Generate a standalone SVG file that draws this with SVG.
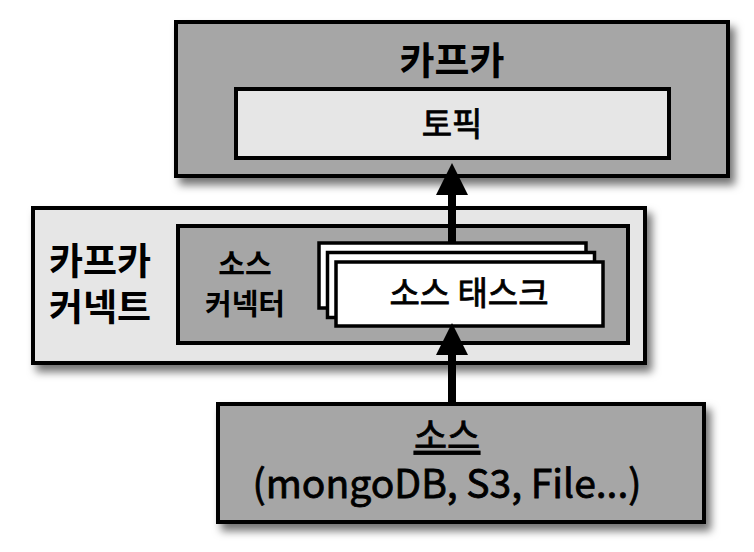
<svg xmlns="http://www.w3.org/2000/svg" width="754" height="552" viewBox="0 0 754 552">
<defs>
<style>
.t{font-family:"Noto Sans CJK KR","Noto Sans",sans-serif;fill:#000;text-anchor:middle}
.b{font-weight:700}
.m{font-weight:400;stroke:#000;stroke-width:0.8}
.box{stroke:#000;stroke-width:4}
.card{fill:#fff;stroke:#000;stroke-width:3.5}
.dark{fill:#a6a6a6}
.light{fill:#e6e6e6}
.conn{stroke:#000;stroke-width:8;fill:none}
</style>
<filter id="sh" x="-10%" y="-10%" width="125%" height="135%">
<feDropShadow dx="5" dy="7" stdDeviation="4" flood-color="#000" flood-opacity="0.55"/>
</filter>
<marker id="ah" markerUnits="userSpaceOnUse" markerWidth="32" markerHeight="32" viewBox="0 0 30 30" refX="0" refY="15" orient="auto">
<path d="M0,0 L30,15 L0,30 z" fill="#000"/>
</marker>
</defs>
<g id="kafka">
<rect class="box dark" x="176" y="22" width="552" height="154" filter="url(#sh)"/>
<text class="t b" x="452" y="74" font-size="38">카프카</text>
</g>
<g id="topic">
<rect class="box light" x="236" y="89" width="433" height="69"/>
<text class="t m" x="452" y="136" font-size="33">토픽</text>
</g>
<g id="kafka-connect">
<rect class="box light" x="33" y="208" width="612" height="155" filter="url(#sh)"/>
<text class="t b" x="100" y="275" font-size="37">카프카</text>
<text class="t b" x="100" y="321" font-size="37">커넥트</text>
</g>
<g id="source-connector">
<rect class="box dark" x="178" y="226" width="450" height="117"/>
<text class="t b" x="245" y="275" font-size="29">소스</text>
<text class="t b" x="245" y="315" font-size="29">커넥터</text>
</g>
<g id="source-task">
<rect class="card" x="319" y="243" width="267" height="65"/>
<rect class="card" x="327.5" y="252.5" width="267" height="65"/>
<rect class="card" x="336" y="262" width="267" height="64"/>
<text class="t m" x="469" y="305" font-size="33">소스 태스크</text>
</g>
<g id="source">
<rect class="box dark" x="218" y="404" width="486" height="118" filter="url(#sh)"/>
<text class="t m" x="447" y="449" font-size="36" text-decoration="underline">소스</text>
<text class="t m" x="447" y="498" font-size="39">(mongoDB, S3, File...)</text>
</g>
<g id="connectors">
<line class="conn" x1="452" y1="243" x2="452" y2="195" marker-end="url(#ah)"/>
<line class="conn" x1="452" y1="404" x2="452" y2="355" marker-end="url(#ah)"/>
</g>
</svg>
